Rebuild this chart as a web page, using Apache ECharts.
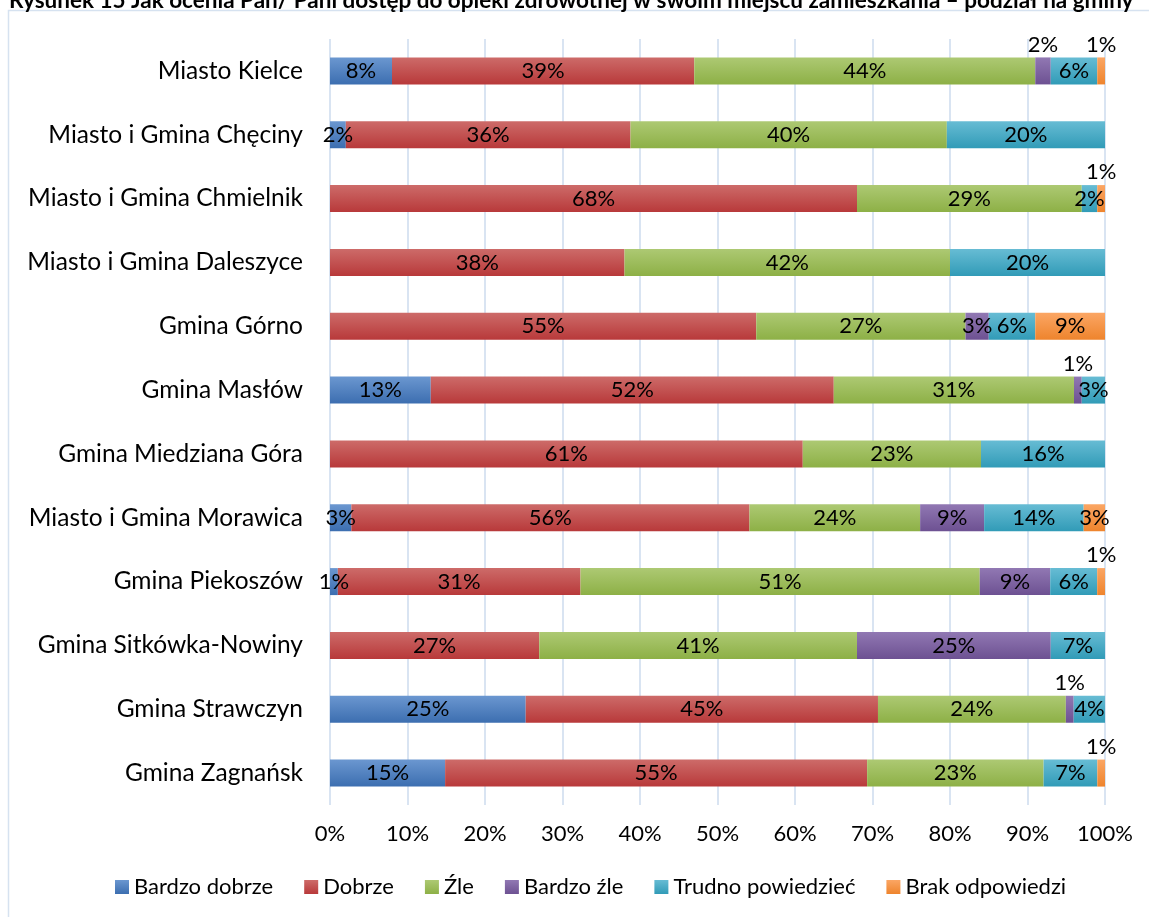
<!DOCTYPE html>
<html>
<head>
<meta charset="utf-8">
<script src="https://cdn.jsdelivr.net/npm/echarts@6/dist/echarts.min.js"></script>
<style>
  html, body { margin: 0; padding: 0; background: #fff; }
  #chart { width: 1149px; height: 917px; }
</style>
</head>
<body>
<div id="chart"></div>
<script>
// gminy, od góry do dołu
const categories = [
  'Miasto Kielce',
  'Miasto i Gmina Chęciny',
  'Miasto i Gmina Chmielnik',
  'Miasto i Gmina Daleszyce',
  'Gmina Górno',
  'Gmina Masłów',
  'Gmina Miedziana Góra',
  'Miasto i Gmina Morawica',
  'Gmina Piekoszów',
  'Gmina Sitkówka-Nowiny',
  'Gmina Strawczyn',
  'Gmina Zagnańsk'
];

// odpowiedzi w % (jak na etykietach)
const bardzoDobrze   = [8, 2, 0, 0, 0, 13, 0, 3, 1, 0, 25, 15];
const dobrze         = [39, 36, 68, 38, 55, 52, 61, 56, 31, 27, 45, 55];
const zle            = [44, 40, 29, 42, 27, 31, 23, 24, 51, 41, 24, 23];
const bardzoZle      = [2, 0, 0, 0, 3, 1, 0, 9, 9, 25, 1, 0];
const trudno         = [6, 20, 2, 20, 6, 3, 16, 14, 6, 7, 4, 7];
const brakOdpowiedzi = [1, 0, 1, 0, 9, 0, 0, 3, 1, 0, 0, 1];

const xTicks = ['0%', '10%', '20%', '30%', '40%', '50%', '60%', '70%', '80%', '90%', '100%'];

const seriesDefs = [
  { name: 'Bardzo dobrze', data: bardzoDobrze, top: '#6B97D0', bottom: '#3C6EB0' },
  { name: 'Dobrze', data: dobrze, top: '#CD6B69', bottom: '#B8393A' },
  { name: 'Źle', data: zle, top: '#ADC973', bottom: '#8DB046' },
  { name: 'Bardzo źle', data: bardzoZle, top: '#9178B3', bottom: '#6D5192' },
  { name: 'Trudno powiedzieć', data: trudno, top: '#67BCD4', bottom: '#319BB7' },
  { name: 'Brak odpowiedzi', data: brakOdpowiedzi, top: '#FBA664', bottom: '#EE842D' }
];

// małe etykiety przesunięte nad słupek (indeksy wierszy)
const labelsAbove = {
  'Bardzo źle': [0, 5, 10],
  'Brak odpowiedzi': [0, 2, 8, 11]
};

const FONT = 'Lato, "Noto Sans", sans-serif';

// wykres 100% - suma wiersza = 100%
const totals = categories.map((c, i) =>
  seriesDefs.reduce((s, d) => s + d.data[i], 0)
);

const chart = echarts.init(document.getElementById('chart'));

const series = seriesDefs.map(def => {
  const above = labelsAbove[def.name] || [];
  return {
    name: def.name,
    type: 'bar',
    stack: 'all',
    barWidth: 27,
    itemStyle: {
      color: new echarts.graphic.LinearGradient(0, 0, 0, 1, [
        { offset: 0, color: def.top },
        { offset: 1, color: def.bottom }
      ])
    },
    label: {
      show: true,
      position: 'inside',
      color: '#000',
      fontSize: 22,
      fontFamily: FONT,
      formatter: p => def.data[p.dataIndex] ? def.data[p.dataIndex] + '%' : ''
    },
    data: def.data.map((v, i) => {
      const item = { value: v / totals[i] * 100 };
      if (above.includes(i)) item.label = { position: 'top', distance: 2 };
      return item;
    })
  };
});

const option = {
  animation: false,
  title: {
    text: 'Rysunek 15 Jak ocenia Pan/ Pani dostęp do opieki zdrowotnej w swoim miejscu zamieszkania – podział na gminy',
    left: 4,
    top: -16,
    textStyle: { fontSize: 22.5, fontWeight: 'bold', color: '#000', fontFamily: FONT }
  },
  graphic: [{
    type: 'rect',
    shape: { x: 8.5, y: 10.5, width: 1300, height: 1000 },
    style: { fill: 'none', stroke: '#D6E2F0', lineWidth: 1.5 },
    silent: true
  }],
  legend: {
    bottom: 14,
    left: 110,
    itemWidth: 14,
    itemHeight: 14,
    itemGap: 31,
    icon: 'rect',
    textStyle: { fontSize: 22, color: '#000', fontFamily: FONT }
  },
  grid: {
    top: 39,
    bottom: 112,
    left: 330,
    right: 44
  },
  xAxis: {
    type: 'value',
    min: 0,
    max: 100,
    interval: 10,
    axisLine: { show: false },
    axisTick: { show: false },
    splitLine: { lineStyle: { color: '#D9E4F2', width: 2 } },
    axisLabel: {
      margin: 18,
      fontSize: 22,
      color: '#000',
      fontFamily: FONT,
      formatter: v => xTicks[Math.round(v / 10)]
    }
  },
  yAxis: {
    type: 'category',
    inverse: true,
    data: categories,
    axisLine: { show: false },
    axisTick: { show: false },
    axisLabel: {
      margin: 27,
      fontSize: 24.5,
      color: '#000',
      fontFamily: FONT
    }
  },
  series: series
};

chart.setOption(option);
</script>
</body>
</html>
